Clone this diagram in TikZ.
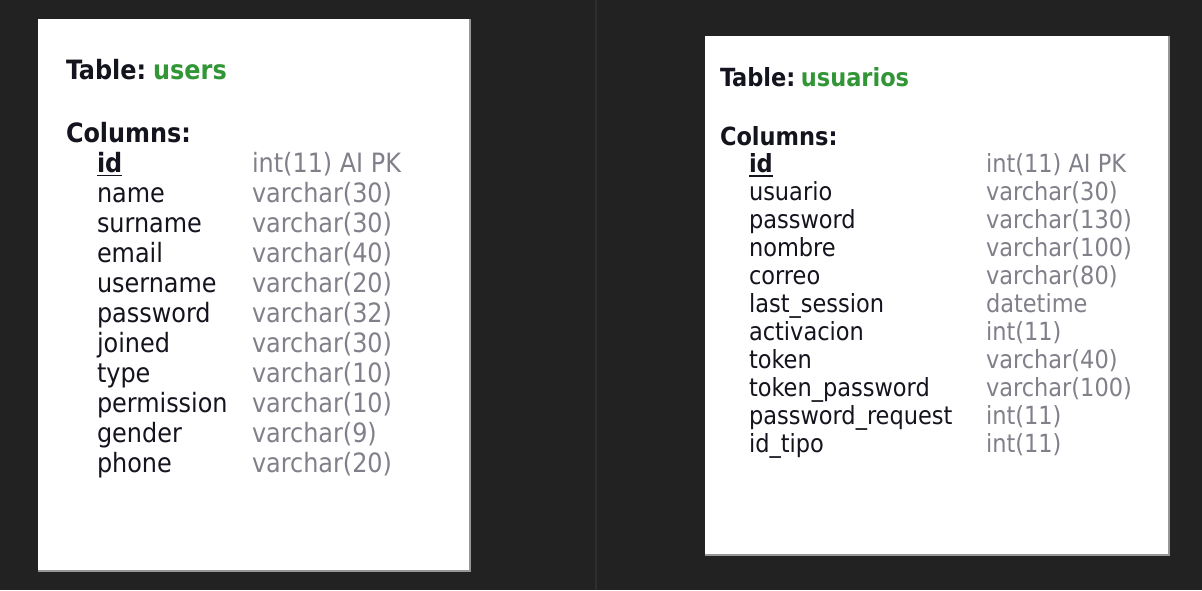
\documentclass[tikz,border=0pt]{standalone}
\usepackage{fontspec}
\setmainfont{DejaVu Sans Condensed}
\definecolor{bgdark}{RGB}{34,34,34}
\definecolor{divider}{RGB}{46,46,46}
\definecolor{edgegrey}{RGB}{150,150,150}
\definecolor{nametext}{RGB}{20,20,30}
\definecolor{typetext}{RGB}{128,128,138}
\definecolor{tablegreen}{RGB}{50,150,55}
\newcommand\leftsize{\fontsize{26.6}{30}\selectfont}
\newcommand\rightsize{\fontsize{25}{28}\selectfont}
\begin{document}
\begin{tikzpicture}[x=1pt,y=-1pt,
  txt/.style={anchor=base west,inner sep=0pt,outer sep=0pt},
  heading/.style={txt,text=nametext},
  colname/.style={txt,text=nametext},
  coltype/.style={txt,text=typetext},
  pkline/.style={draw=nametext,line width=1.6pt},
  sheet/.style={fill=white},
  sheetedge/.style={draw=edgegrey,line width=1.2pt}
]
\useasboundingbox (0,0) rectangle (1202,590);
\fill[bgdark] (0,0) rectangle (1202,590);
\draw[divider,line width=1.2pt] (596,0) -- (596,590);

% ---- table users ----
\fill[sheet] (38,19) rectangle (470,571);
\draw[sheetedge] (470,19) -- (470,571) -- (38,571);
\begin{scope}[every node/.append style={font=\leftsize}]
  \node[heading,font=\leftsize\bfseries] (lt) at (66,79) {Table:\hspace{7pt}\textcolor{tablegreen}{users}};
  \node[heading,font=\leftsize\bfseries] (lc) at (66,142) {Columns:};
  \node[colname,font=\leftsize\bfseries] (ln0) at (97,172) {id};
  \node[coltype] (lt0) at (252,172) {int(11) AI PK};
  \draw[pkline] ([yshift=-3.5pt]ln0.base west) -- ([yshift=-3.5pt]ln0.base east);
  \foreach \n/\t [count=\i] in {name/varchar(30),surname/varchar(30),email/varchar(40),
      username/varchar(20),password/varchar(32),joined/varchar(30),type/varchar(10),
      permission/varchar(10),gender/varchar(9),phone/varchar(20)}{
    \node[colname] (ln\i) at (97,172+30.05*\i) {\n};
    \node[coltype] (lt\i) at (252,172+30.05*\i) {\t};
  }
\end{scope}

% ---- table usuarios ----
\fill[sheet] (705,36) rectangle (1169,555);
\draw[sheetedge] (1169,36) -- (1169,555) -- (705,555);
\begin{scope}[every node/.append style={font=\rightsize}]
  \node[heading,font=\rightsize\bfseries] (rt) at (720,86.5) {Table:\hspace{5.5pt}\textcolor{tablegreen}{usuarios}};
  \node[heading,font=\rightsize\bfseries] (rc) at (720,145) {Columns:};
  \node[colname,font=\rightsize\bfseries] (rn0) at (749,172.5) {id};
  \node[coltype] (rt0) at (986,172.5) {int(11) AI PK};
  \draw[pkline] ([yshift=-3.3pt]rn0.base west) -- ([yshift=-3.3pt]rn0.base east);
  \foreach \n/\t [count=\i] in {usuario/varchar(30),password/varchar(130),nombre/varchar(100),
      correo/varchar(80),last\_session/datetime,activacion/int(11),token/varchar(40),
      token\_password/varchar(100),password\_request/int(11),id\_tipo/int(11)}{
    \node[colname] (rn\i) at (749,172.5+27.95*\i) {\n};
    \node[coltype] (rt\i) at (986,172.5+27.95*\i) {\t};
  }
\end{scope}
\end{tikzpicture}
\end{document}
